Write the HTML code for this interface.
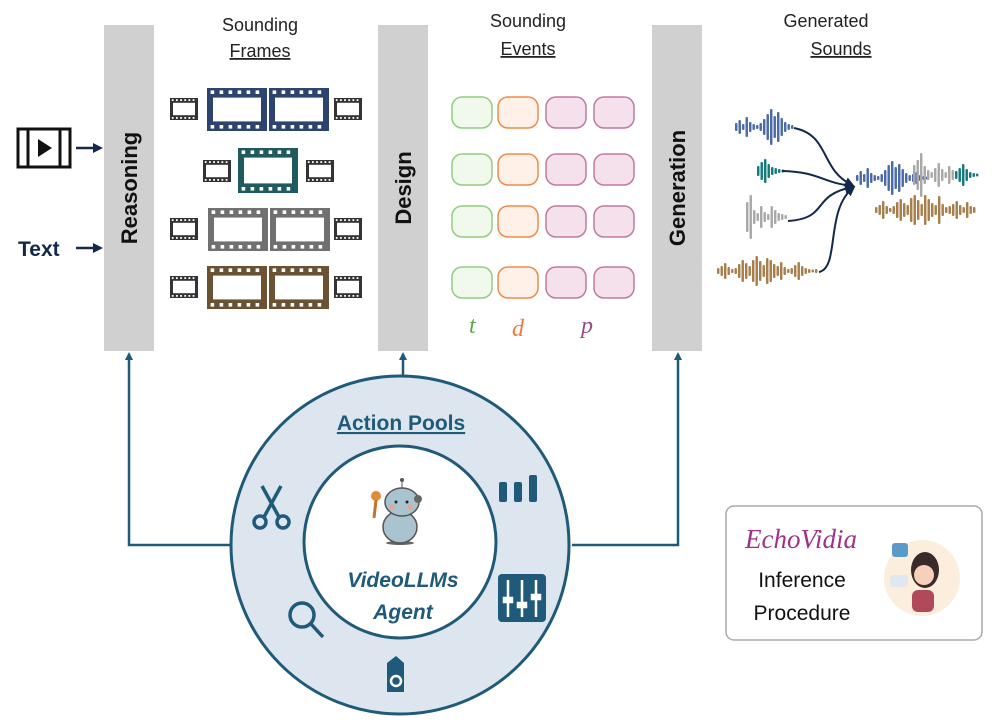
<!DOCTYPE html>
<html><head><meta charset="utf-8"><style>
body{margin:0;width:996px;height:723px;background:#fff;overflow:hidden;font-family:"Liberation Sans",sans-serif}
</style></head><body>
<svg id="s" width="996" height="723" viewBox="0 0 996 723" xmlns="http://www.w3.org/2000/svg">
<defs>
<marker id="ab" markerWidth="8" markerHeight="8" refX="6" refY="4" orient="auto" markerUnits="userSpaceOnUse"><path d="M0,0 L8,4 L0,8 z" fill="#1f5a7a"/></marker>
<marker id="ak" markerWidth="10" markerHeight="10" refX="7" refY="5" orient="auto" markerUnits="userSpaceOnUse"><path d="M0,0 L10,5 L0,10 z" fill="#13294b"/></marker>
</defs>
<rect x="104" y="25" width="50" height="326" fill="#d0d0d0"/>
<rect x="378" y="25" width="50" height="326" fill="#d0d0d0"/>
<rect x="652" y="25" width="50" height="326" fill="#d0d0d0"/>
<g font-weight="bold" font-size="22" fill="#111">
<text transform="translate(137,188) rotate(-90)" text-anchor="middle">Reasoning</text>
<text transform="translate(411,188) rotate(-90)" text-anchor="middle">Design</text>
<text transform="translate(685,188) rotate(-90)" text-anchor="middle">Generation</text>
</g>
<g font-size="18" fill="#222" text-anchor="middle">
<text x="260" y="31">Sounding</text><text x="260" y="57" text-decoration="underline">Frames</text>
<text x="528" y="27">Sounding</text><text x="528" y="55" text-decoration="underline">Events</text>
<text x="826" y="27">Generated</text><text x="841" y="55" text-decoration="underline">Sounds</text>
</g>
<g>
<rect x="18" y="129" width="52" height="38" fill="#fff" stroke="#111" stroke-width="3"/>
<line x1="28" y1="129" x2="28" y2="167" stroke="#111" stroke-width="3"/>
<line x1="60" y1="129" x2="60" y2="167" stroke="#111" stroke-width="3"/>
<path d="M38,139 L52,148 L38,157 z" fill="#111"/>
<text x="18" y="256" font-size="21" font-weight="bold" fill="#13294b">Text</text>
<line x1="76" y1="148" x2="100" y2="148" stroke="#13294b" stroke-width="2.5" marker-end="url(#ak)"/>
<line x1="76" y1="248" x2="100" y2="248" stroke="#13294b" stroke-width="2.5" marker-end="url(#ak)"/>
</g>
<g id="films"></g>
<g id="pills"></g>
<g font-family="Liberation Serif" font-style="italic" font-size="24">
<text x="469" y="333" fill="#5aa84a">t</text>
<text x="512" y="336" fill="#ee7a3a">d</text>
<text x="581" y="333" fill="#9a4a8a">p</text>
</g>
<g id="waves"></g>
<g fill="none" stroke="#13294b" stroke-width="2">
<path d="M794,128 C830,135 820,170 852,185" marker-end="url(#ak)"/>
<path d="M782,171 C820,172 820,182 852,186" marker-end="url(#ak)"/>
<path d="M788,221 C830,218 810,196 852,187" marker-end="url(#ak)"/>
<path d="M819,272 C840,268 825,210 853,188" marker-end="url(#ak)"/>
</g>
<g fill="none" stroke="#1f5a7a" stroke-width="2.5">
<path d="M231,545 L129,545 L129,354" marker-end="url(#ab)"/>
<path d="M403,377 L403,354" marker-end="url(#ab)"/>
<path d="M572,545 L678,545 L678,354" marker-end="url(#ab)"/>
</g>
<circle cx="400" cy="545" r="169" fill="#dde5ee" stroke="#1f5a7a" stroke-width="3"/>
<circle cx="400" cy="542" r="96" fill="#fff" stroke="#1f5a7a" stroke-width="3"/>
<text x="401" y="430" font-size="21" font-weight="bold" fill="#1f5a7a" text-anchor="middle" text-decoration="underline">Action Pools</text>
<g font-size="21" font-weight="bold" font-style="italic" fill="#1f5a7a" text-anchor="middle">
<text x="403" y="587">VideoLLMs</text><text x="403" y="619">Agent</text>
</g>
<g>
<ellipse cx="400" cy="543" rx="14" ry="2" fill="#666"/>
<ellipse cx="400" cy="527" rx="17" ry="16" fill="#a9c4cf" stroke="#555" stroke-width="1.5"/>
<ellipse cx="402" cy="502" rx="17" ry="14" fill="#a9c4cf" stroke="#555" stroke-width="1.5"/>
<circle cx="418" cy="499" r="4" fill="#666"/>
<line x1="402" y1="488" x2="402" y2="481" stroke="#555"/><circle cx="402" cy="480" r="2" fill="#555"/>
<circle cx="376" cy="496" r="5" fill="#e08a3a"/><line x1="376" y1="500" x2="374" y2="518" stroke="#c0742a" stroke-width="3"/>
<circle cx="396" cy="502" r="1.5" fill="#222"/><circle cx="407" cy="502" r="1.5" fill="#222"/>
<circle cx="392" cy="507" r="2.5" fill="#f0a090"/><circle cx="410" cy="507" r="2.5" fill="#f0a090"/>
</g>
<g fill="none" stroke="#1f5a7a" stroke-width="3.5">
<circle cx="260" cy="522" r="6"/><circle cx="283" cy="522" r="6"/>
<path d="M264,517 L281,486 M279,517 L262,486"/>
<circle cx="302" cy="615" r="12"/><path d="M311,624 L323,637"/>
</g>
<g fill="#1f5a7a">
<rect x="499" y="482" width="8" height="20" rx="2"/><rect x="514" y="482" width="8" height="20" rx="2"/><rect x="529" y="475" width="8" height="27" rx="2"/>
<rect x="498" y="574" width="48" height="48" rx="4"/>
<path d="M387,663 L396,656 L404,663 L404,692 L387,692 z"/>
</g>
<g stroke="#fff" stroke-width="2.5" fill="#fff">
<line x1="508" y1="580" x2="508" y2="617"/><line x1="522" y1="580" x2="522" y2="617"/><line x1="536" y1="580" x2="536" y2="617"/>
<rect x="504" y="598" width="8" height="4"/><rect x="518" y="603" width="8" height="4"/><rect x="532" y="595" width="8" height="4"/>
</g>
<circle cx="396" cy="681" r="5" fill="none" stroke="#fff" stroke-width="2.5"/>
<rect x="726" y="506" width="256" height="134" rx="8" fill="#fff" stroke="#aaa" stroke-width="1.5"/>
<text x="745" y="548" font-family="Liberation Serif" font-style="italic" font-size="27" fill="#a0308a">EchoVidia</text>
<text x="802" y="587" font-size="21" fill="#111" text-anchor="middle">Inference</text>
<text x="802" y="620" font-size="21" fill="#111" text-anchor="middle">Procedure</text>
<circle cx="922" cy="578" r="38" fill="#fbeedd"/>
<ellipse cx="925" cy="570" rx="14" ry="18" fill="#3a2a2a"/>
<circle cx="924" cy="575" r="10" fill="#f6d0b8"/>
<rect x="912" y="590" width="22" height="22" rx="6" fill="#b04a5a"/>
<rect x="892" y="543" width="16" height="14" rx="3" fill="#5a9ac8"/>
<rect x="890" y="575" width="18" height="12" rx="3" fill="#e0e8ef"/>
</svg>
<script>
var NS="http://www.w3.org/2000/svg";
function el(p,t,a){var e=document.createElementNS(NS,t);for(var k in a)e.setAttribute(k,a[k]);p.appendChild(e);return e;}
var F=document.getElementById('films');
function film(x,y,w,h,c,sw){el(F,'rect',{x:x,y:y,width:w,height:h,fill:c});
 el(F,'rect',{x:x+sw,y:y+sw*1.6,width:w-2*sw,height:h-3.2*sw,fill:'#fff'});
 var n=Math.floor(w/(sw*1.5));for(var i=0;i<n;i++){var xx=x+sw*0.6+i*(w-sw)/n;
 el(F,'rect',{x:xx,y:y+sw*0.4,width:sw*0.6,height:sw*0.6,fill:'#fff'});
 el(F,'rect',{x:xx,y:y+h-sw,width:sw*0.6,height:sw*0.6,fill:'#fff'});}}
function small(x,y){film(x,y,28,22,'#333',3);}
[[88,207,'#2e4470',2],[148,238,'#1e5a5e',1],[208,208,'#707070',2],[266,207,'#6a5233',2]].forEach(function(r){
 var y=r[0],x=r[1];
 if(r[3]==2){film(x,y,60,43,r[2],6);film(x+62,y,60,43,r[2],6);small(170,y+10);small(334,y+10);}
 else{film(x,y,60,45,r[2],6);small(203,y+12);small(306,y+12);}
});
var P=document.getElementById('pills');
var cols=[[452,'#8fce7f','#f1f9ec'],[498,'#ee8a4a','#fff1e8'],[546,'#c07aa0','#f5e1eb'],[594,'#c07aa0','#f5e1eb']];
[97,154,206,267].forEach(function(y){cols.forEach(function(c){el(P,'rect',{x:c[0],y:y,width:40,height:31,rx:10,fill:c[2],stroke:c[1],'stroke-width':1.5});});});
var W=document.getElementById('waves');
function wave(x,cy,n,step,c,hs){for(var i=0;i<n;i++){var h=hs[i%hs.length];el(W,'rect',{x:x+i*step,y:cy-h/2,width:step*0.7,height:h,rx:1,fill:c});}}
var b='#4a6aa8',t='#137a7e',g='#a8a8a8',br='#a87e4a';
wave(735,127,17,3.5,b,[8,14,6,20,10,6,4,8,16,26,36,22,30,18,10,6,4]);
wave(757,171,8,3.5,t,[10,18,24,14,8,6,4,3]);
wave(746,217,12,3.5,g,[30,44,14,8,22,10,6,22,14,8,6,4]);
wave(717,271,29,3.5,br,[6,10,16,8,4,6,14,22,16,10,22,30,20,12,26,22,14,10,18,8,4,6,12,18,10,6,4,3,4]);
wave(856,178,21,3.5,b,[6,14,8,20,10,6,4,8,16,26,34,22,28,18,10,6,8,12,6,4,3]);
wave(913,175,15,3.5,g,[20,30,44,18,10,6,14,24,12,6,18,10,6,4,3]);
wave(955,175,7,3.5,t,[8,14,22,12,6,4,3]);
wave(875,210,29,3.5,br,[6,10,18,8,4,8,16,22,14,10,24,30,20,12,30,22,14,10,28,12,6,8,12,18,10,6,16,8,6]);
</script>
</body></html>
